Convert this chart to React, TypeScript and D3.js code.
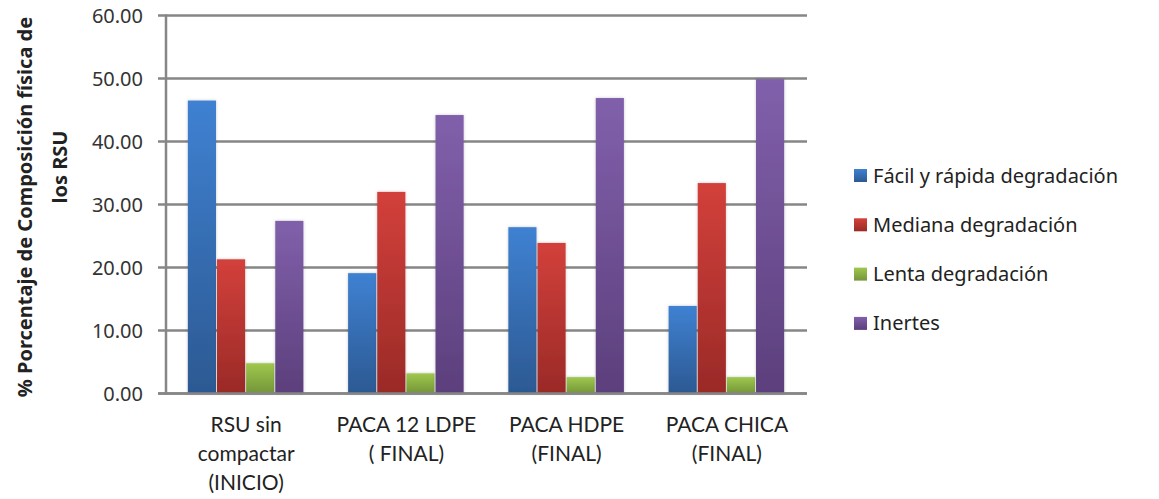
import React from "react";
import * as d3 from "d3";

// Categories (x axis, multi-line labels)
const categories = [
  "RSU sin compactar (INICIO)",
  "PACA 12 LDPE (FINAL)",
  "PACA HDPE (FINAL)",
  "PACA CHICA (FINAL)",
];
const categoryLines = [
  ["RSU sin", "compactar", "(INICIO)"],
  ["PACA 12 LDPE", "( FINAL)"],
  ["PACA HDPE", "(FINAL)"],
  ["PACA CHICA", "(FINAL)"],
];

// Series values (% composition)
const seriesNames = [
  "Fácil y rápida degradación",
  "Mediana degradación",
  "Lenta degradación",
  "Inertes",
];
const facilValues = [46.5, 19.1, 26.4, 13.9];
const medianaValues = [21.3, 32.0, 23.9, 33.4];
const lentaValues = [4.8, 3.2, 2.6, 2.6];
const inertesValues = [27.4, 44.2, 46.9, 49.9];
const seriesValues = [facilValues, medianaValues, lentaValues, inertesValues];

const yTicks = [0, 10, 20, 30, 40, 50, 60];

const colorsTop = ["#3f81d2", "#d3403b", "#9fc84d", "#8160ab"];
const colorsBottom = ["#2c5992", "#9a2a27", "#74953a", "#5c3f7c"];

const W = 1159;
const H = 499;
const left = 166;
const right = 807;
const top = 15.5;
const bottom = 393.5;

export default function App() {
  const x = d3.scaleBand<string>().domain(categories).range([left, right]).padding(0);
  const xs = d3
    .scaleBand<number>()
    .domain(d3.range(seriesNames.length))
    .range([0, x.bandwidth()])
    .paddingInner(0)
    .paddingOuter(0.75);
  const y = d3.scaleLinear().domain([0, 60]).range([bottom, top]);

  const tickFont = "'Noto Sans', 'Open Sans', sans-serif";
  const catFont = "Lato, 'Noto Sans', sans-serif";

  return (
    <svg
      width={W}
      height={H}
      style={{ position: "absolute", left: 0, top: 0, background: "#fff" }}
    >
      <defs>
        {seriesNames.map((_, i) => (
          <linearGradient key={i} id={`g${i}`} x1="0" y1="0" x2="0" y2="1">
            <stop offset="0%" stopColor={colorsTop[i]} />
            <stop offset="100%" stopColor={colorsBottom[i]} />
          </linearGradient>
        ))}
        <filter id="sh" x="-30%" y="-10%" width="160%" height="120%">
          <feDropShadow dx="0" dy="0" stdDeviation="1.6" floodColor="#000" floodOpacity="0.22" />
        </filter>
      </defs>

      {/* gridlines with tick extensions */}
      {yTicks.map((t) => (
        <line
          key={t}
          x1={left - 8}
          x2={right}
          y1={y(t)}
          y2={y(t)}
          stroke="#868686"
          strokeWidth={2.5}
        />
      ))}
      {/* vertical axis */}
      <line x1={left} x2={left} y1={top - 1} y2={bottom + 1} stroke="#868686" strokeWidth={2.5} />

      {/* y tick labels */}
      {yTicks.map((t) => (
        <text
          key={t}
          x={143}
          y={y(t)}
          dy="0.35em"
          textAnchor="end"
          fontFamily={tickFont}
          fontSize={20}
          fill="#333"
        >
          {t.toFixed(2)}
        </text>
      ))}

      {/* bars */}
      {categories.map((c, ci) => (
        <g key={c} transform={`translate(${x(c)},0)`}>
          {seriesValues.map((vals, si) => (
            <rect
              key={si}
              x={xs(si)}
              y={y(vals[ci])}
              width={xs.bandwidth() - 1}
              height={bottom - y(vals[ci])}
              fill={`url(#g${si})`}
              filter="url(#sh)"
            />
          ))}
        </g>
      ))}

      {/* x axis line drawn over bar bottoms */}
      <line x1={left - 8} x2={right} y1={bottom} y2={bottom} stroke="#868686" strokeWidth={2.5} />

      {/* category labels */}
      {categories.map((c, ci) => (
        <text
          key={c}
          x={(x(c) as number) + x.bandwidth() / 2}
          y={432}
          textAnchor="middle"
          fontFamily={catFont}
          fontSize={21}
          fill="#222"
        >
          {categoryLines[ci].map((ln, li) => (
            <tspan key={li} x={(x(c) as number) + x.bandwidth() / 2} dy={li === 0 ? 0 : 29}>
              {ln}
            </tspan>
          ))}
        </text>
      ))}

      {/* y axis title */}
      <g transform="translate(32,207) rotate(-90)">
        <text x={0} y={0} textAnchor="middle" fontFamily={tickFont} fontWeight="bold" fontSize={20} fill="#222">
          % Porcentaje de Composición física de
        </text>
      </g>
      <g transform="translate(67,167) rotate(-90)">
        <text x={0} y={0} textAnchor="middle" fontFamily={tickFont} fontWeight="bold" fontSize={20} fill="#222">
          los RSU
        </text>
      </g>

      {/* legend */}
      {seriesNames.map((name, i) => {
        const cy = 175.5 + i * 49.3;
        return (
          <g key={name}>
            <rect x={854} y={cy - 6.5} width={13} height={13} fill={`url(#g${i})`} />
            <text x={873} y={cy} dy="0.35em" fontFamily={tickFont} fontSize={20} fill="#222">
              {name}
            </text>
          </g>
        );
      })}
    </svg>
  );
}
